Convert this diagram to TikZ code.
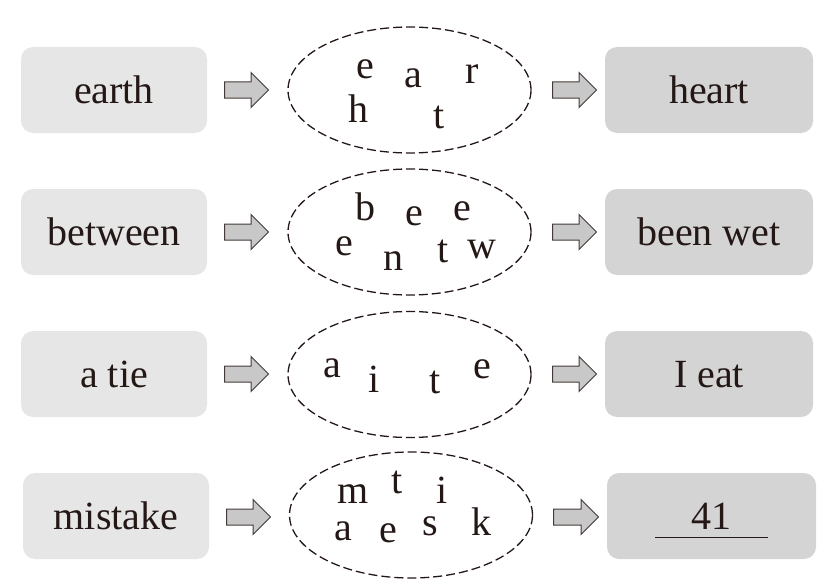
\documentclass[tikz,border=0pt]{standalone}
\usepackage{fontspec}
\setmainfont{Liberation Serif}
\usetikzlibrary{shapes.arrows,shapes.geometric}
\definecolor{ink}{HTML}{231815}
\definecolor{lbox}{HTML}{E6E6E6}
\definecolor{rbox}{HTML}{D4D4D4}
\definecolor{arrowfill}{HTML}{C8C8C8}
\begin{document}
\begin{tikzpicture}[x=1pt,y=-1pt,
 srcbox/.style={rounded corners=12pt, fill=lbox, minimum width=186pt, minimum height=86pt, text height=26pt, text depth=0pt, font=\fontsize{40}{46}\selectfont, text=ink, inner sep=0pt},
 resbox/.style={srcbox, fill=rbox, minimum width=208pt},
 bag/.style={ellipse, draw=ink, dash pattern=on 9pt off 4pt, line width=1.3pt, minimum width=243pt, minimum height=126pt, inner sep=0pt},
 letter/.style={anchor=base, inner sep=0pt, font=\fontsize{40}{46}\selectfont, text=ink},
 blockarrow/.style={single arrow, anchor=tail, draw=ink!85, fill=arrowfill, line width=1pt, minimum height=44pt, minimum width=0pt, text width=0pt, text height=7.5pt, text depth=7.5pt, single arrow head extend=9.5pt, single arrow tip angle=90, inner sep=0pt}
]
\useasboundingbox (0,0) rectangle (838,586);

% Row 1
\node[srcbox] (s1) at (114,90) {earth};
\node[blockarrow] (a1l) at (224,90) {};
\node[bag] (e1) at (409.5,90) {};
\node[blockarrow] (a1r) at (552,90) {};
\node[resbox] (r1) at (709,90) {heart};
\node[letter] (l11) at (365,78) {e};
\node[letter] (l12) at (413,88) {a};
\node[letter] (l13) at (472,83) {r};
\node[letter] (l14) at (358,122) {h};
\node[letter] (l15) at (439,128) {t};

% Row 2
\node[srcbox] (s2) at (114,232) {between};
\node[blockarrow] (a2l) at (224,232) {};
\node[bag] (e2) at (409.5,232) {};
\node[blockarrow] (a2r) at (552,232) {};
\node[resbox] (r2) at (709,232) {been wet};
\node[letter] (l21) at (365,220) {b};
\node[letter] (l22) at (414,225) {e};
\node[letter] (l23) at (462,220) {e};
\node[letter] (l24) at (344,255) {e};
\node[letter] (l25) at (393,270) {n};
\node[letter] (l26) at (443,262) {t};
\node[letter] (l27) at (482,258) {w};

% Row 3
\node[srcbox] (s3) at (114,374) {a tie};
\node[blockarrow] (a3l) at (224,374) {};
\node[bag] (e3) at (409.5,374.5) {};
\node[blockarrow] (a3r) at (552,374) {};
\node[resbox] (r3) at (709,374) {I eat};
\node[letter] (l31) at (332,377) {a};
\node[letter] (l32) at (374,392) {i};
\node[letter] (l33) at (435,393) {t};
\node[letter] (l34) at (482,378) {e};

% Row 4
\node[srcbox] (s4) at (116,516) {mistake};
\node[blockarrow] (a4l) at (226,517) {};
\node[bag] (e4) at (411,515) {};
\node[blockarrow, minimum height=45pt] (a4r) at (553,517) {};
\node[resbox, minimum width=209pt] (r4) at (711.5,516) {41};
\node[letter] (l41) at (353,503) {m};
\node[letter] (l42) at (397,493) {t};
\node[letter] (l43) at (442,503) {i};
\node[letter] (l44) at (343,540) {a};
\node[letter] (l45) at (388,542) {e};
\node[letter] (l46) at (430,535) {s};
\node[letter] (l47) at (481,535) {k};
\coordinate (u1) at (655,537);
\coordinate (u2) at (768,537);
\draw[ink, line width=0.9pt] (u1) -- (u2);
\end{tikzpicture}
\end{document}
